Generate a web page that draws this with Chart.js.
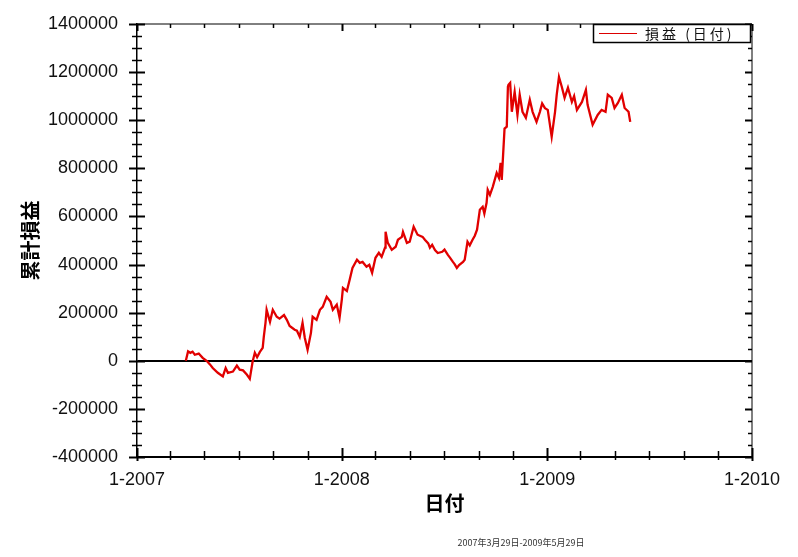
<!DOCTYPE html>
<html>
<head>
<meta charset="utf-8">
<script src="https://cdn.jsdelivr.net/npm/chart.js@4.4.0/dist/chart.umd.min.js"></script>
<style>
  html, body { margin: 0; padding: 0; background: #fff; }
  #contenedor { width: 798px; height: 557px; }
</style>
</head>
<body>
<div id="contenedor"><canvas id="grafico"></canvas></div>
<script>
/* datos: fecha y beneficio acumulado */
var fechas = [
  '2007-03-29','2007-04-02','2007-04-06','2007-04-10','2007-04-14','2007-04-21','2007-04-28','2007-05-05',
  '2007-05-11','2007-05-16','2007-05-25','2007-06-03','2007-06-08','2007-06-12','2007-06-21','2007-06-28',
  '2007-07-03','2007-07-09','2007-07-16','2007-07-21','2007-07-26','2007-07-30','2007-08-03','2007-08-08',
  '2007-08-13','2007-08-15','2007-08-18','2007-08-20','2007-08-26','2007-08-31','2007-09-07','2007-09-12',
  '2007-09-20','2007-09-25','2007-09-30','2007-10-09','2007-10-13','2007-10-18','2007-10-23','2007-10-27',
  '2007-11-01','2007-11-07','2007-11-10','2007-11-17','2007-11-23','2007-11-28','2007-12-05','2007-12-12',
  '2007-12-16','2007-12-23','2007-12-28','2008-01-01','2008-01-03','2008-01-10','2008-01-15','2008-01-20',
  '2008-01-28','2008-02-02','2008-02-07','2008-02-14','2008-02-19','2008-02-24','2008-03-01','2008-03-07',
  '2008-03-12','2008-03-18','2008-03-19','2008-03-23','2008-03-30','2008-04-06','2008-04-10','2008-04-17',
  '2008-04-19','2008-04-26','2008-05-01','2008-05-08','2008-05-15','2008-05-24','2008-05-28','2008-06-03',
  '2008-06-06','2008-06-10','2008-06-15','2008-06-20','2008-06-28','2008-07-02','2008-07-08','2008-07-12',
  '2008-07-17','2008-07-20','2008-07-24','2008-07-28','2008-08-04','2008-08-07','2008-08-12','2008-08-16',
  '2008-08-21','2008-08-25','2008-08-29','2008-09-03','2008-09-08','2008-09-11','2008-09-15','2008-09-17',
  '2008-09-21','2008-09-26','2008-10-03','2008-10-07','2008-10-10','2008-10-12','2008-10-17','2008-10-21',
  '2008-10-23','2008-10-24','2008-10-27','2008-10-30','2008-11-04','2008-11-09','2008-11-13','2008-11-18',
  '2008-11-24','2008-12-01','2008-12-06','2008-12-13','2008-12-19','2008-12-23','2008-12-28','2009-01-02',
  '2009-01-09','2009-01-15','2009-01-18','2009-01-22','2009-01-27','2009-02-01','2009-02-07','2009-02-14',
  '2009-02-18','2009-02-23','2009-03-04','2009-03-11','2009-03-14','2009-03-23','2009-04-01','2009-04-08',
  '2009-04-15','2009-04-19','2009-04-26','2009-05-01','2009-05-07','2009-05-14','2009-05-19','2009-05-26',
  '2009-05-29'
];

var beneficio = [
  0, 39000, 33000, 38000, 25000, 30000, 12000, 0,
  -15000, -30000, -50000, -65000, -30000, -50000, -45000, -20000,
  -37000, -40000, -58000, -75000, -4000, 33000, 15000, 37000,
  54000, 100000, 158000, 212000, 162000, 212000, 183000, 175000,
  190000, 170000, 145000, 129000, 125000, 100000, 158000, 96000,
  46000, 116000, 183000, 170000, 212000, 224000, 266000, 245000,
  212000, 233000, 179000, 254000, 303000, 290000, 337000, 386000,
  420000, 407000, 411000, 391000, 399000, 366000, 428000, 449000,
  432000, 470000, 536000, 490000, 461000, 474000, 503000, 515000,
  536000, 490000, 495000, 557000, 524000, 515000, 503000, 488000,
  470000, 482000, 460000, 448000, 453000, 462000, 440000, 428000,
  411000, 402000, 386000, 398000, 411000, 420000, 495000, 480000,
  503000, 520000, 545000, 628000, 640000, 612000, 657000, 711000,
  690000, 723000, 781000, 760000, 823000, 752000, 965000, 973000,
  1139000, 1147000, 1155000, 1035000, 1118000, 1022000, 1106000, 1035000,
  1010000, 1085000, 1035000, 993000, 1035000, 1070000, 1050000, 1043000,
  931000, 1035000, 1106000, 1180000, 1139000, 1093000, 1135000, 1076000,
  1100000, 1043000, 1076000, 1126000, 1064000, 981000, 1022000, 1043000,
  1035000, 1106000, 1093000, 1051000, 1072000, 1106000, 1051000, 1035000,
  993000
];

var anios = [2007, 2008, 2009, 2010];
var etiquetasX = ['1-2007', '1-2008', '1-2009', '1-2010'];
var etiquetasY = [-400000, -200000, 0, 200000, 400000, 600000, 800000, 1000000, 1200000, 1400000];

var tituloY = '累計損益';
var tituloX = '日付';
var nombreSerie = '損益 (日付)';
var pie = '2007年3月29日-2009年5月29日';

// dias desde 1-2007
var origen = Date.UTC(2007, 0, 1);
function dias(txt) {
  var p = txt.split('-');
  return (Date.UTC(+p[0], +p[1] - 1, +p[2]) - origen) / 86400000;
}
var puntos = fechas.map(function (f, i) { return { x: dias(f), y: beneficio[i] }; });
var diasAnio = anios.map(function (a) { return (Date.UTC(a, 0, 1) - origen) / 86400000; });

function linea(ctx, x1, y1, x2, y2) {
  ctx.beginPath(); ctx.moveTo(x1, y1); ctx.lineTo(x2, y2); ctx.stroke();
}

/* marco, marcas menores, leyenda y pie */
var marco = {
  id: 'marco',
  afterDraw: function (chart) {
    var ctx = chart.ctx, a = chart.chartArea, sx = chart.scales.x, sy = chart.scales.y;
    ctx.save();
    ctx.strokeStyle = '#000';
    ctx.lineWidth = 1;
    linea(ctx, a.left, a.top, a.right, a.top);
    linea(ctx, a.right, a.top, a.right, a.bottom);

    // eje y: cada 50000
    for (var v = etiquetasY[0]; v <= etiquetasY[etiquetasY.length - 1]; v += 50000) {
      var py = Math.round(sy.getPixelForValue(v)) + 0.5;
      var mayor = v % 200000 === 0;
      ctx.lineWidth = mayor ? 2 : 1.5;
      var l = mayor ? 8 : 5;
      linea(ctx, a.left - l, py, a.left + l, py);
      linea(ctx, a.right - (mayor ? 7 : 4), py, a.right, py);
    }
    // eje x: cada 2 meses
    for (var an = anios[0]; an <= anios[anios.length - 1]; an++) {
      for (var m = 0; m < 12; m += 2) {
        var d = (Date.UTC(an, m, 1) - origen) / 86400000;
        if (d > sx.max) break;
        var px = Math.round(sx.getPixelForValue(d)) + 0.5;
        var may = m === 0;
        ctx.lineWidth = may ? 2 : 1.5;
        linea(ctx, px, a.bottom - (may ? 9 : 6), px, a.bottom + (may ? 4 : 3));
        linea(ctx, px, a.top, px, a.top + (may ? 7 : 4));
      }
    }

    // leyenda
    var lx = 593, ly = a.top, lw = 157, lh = 18;
    ctx.fillStyle = '#fff';
    ctx.fillRect(lx, ly, lw, lh);
    ctx.lineWidth = 1.5;
    ctx.strokeRect(lx + 0.5, ly + 0.5, lw, lh);
    ctx.strokeStyle = 'rgb(220,0,0)';
    ctx.lineWidth = 1;
    linea(ctx, lx + 6, ly + 9.5, lx + 44, ly + 9.5);
    ctx.fillStyle = '#111';
    ctx.font = '14px "Noto Sans CJK JP"';
    ctx.textBaseline = 'middle';
    ctx.letterSpacing = '3px';
    ctx.fillText(nombreSerie, lx + 52, ly + 10);
    ctx.letterSpacing = '0px';

    // pie
    ctx.font = '9px "Noto Sans CJK JP"';
    ctx.fillStyle = '#333';
    ctx.textAlign = 'center';
    ctx.fillText(pie, 521, 543);
    ctx.restore();
  }
};

var config = {
  type: 'line',
  data: {
    datasets: [{
      label: nombreSerie,
      data: puntos,
      borderColor: 'rgb(225,0,0)',
      borderWidth: 2.3,
      pointRadius: 0,
      tension: 0,
      fill: false
    }]
  },
  options: {
    responsive: true,
    maintainAspectRatio: false,
    animation: false,
    layout: { padding: { top: 24, right: 46, left: 0, bottom: 0 } },
    plugins: { legend: { display: false }, tooltip: { enabled: false } },
    scales: {
      x: {
        type: 'linear',
        min: diasAnio[0],
        max: diasAnio[diasAnio.length - 1],
        afterBuildTicks: function (s) { s.ticks = diasAnio.map(function (d) { return { value: d }; }); },
        afterFit: function (s) { s.height = 100; s.paddingLeft = 0; s.paddingRight = 0; },
        grid: { display: false, drawTicks: false },
        border: { display: true, color: '#000', width: 2 },
        ticks: {
          autoSkip: false,
          maxRotation: 0,
          padding: 12,
          color: '#111',
          font: { family: 'Liberation Sans', size: 18 },
          callback: function (v) { var i = diasAnio.indexOf(v); return i >= 0 ? etiquetasX[i] : ''; }
        },
        title: {
          display: true,
          text: tituloX,
          color: '#000',
          font: { family: 'Noto Sans CJK JP', size: 20, weight: 'bold' },
          padding: { top: 0, bottom: 42 }
        }
      },
      y: {
        min: etiquetasY[0],
        max: etiquetasY[etiquetasY.length - 1],
        afterBuildTicks: function (s) { s.ticks = etiquetasY.map(function (v) { return { value: v }; }); },
        afterFit: function (s) { s.width = 137; s.paddingTop = 0; s.paddingBottom = 0; },
        grid: {
          drawTicks: false,
          color: function (c) { return c.tick && c.tick.value === 0 ? '#000' : 'rgba(0,0,0,0)'; },
          lineWidth: 2
        },
        border: { display: true, color: '#000', width: 1.5 },
        ticks: {
          autoSkip: false,
          padding: 19,
          color: '#111',
          font: { family: 'Liberation Sans', size: 18 },
          callback: function (v) { return String(v); }
        },
        title: {
          display: true,
          text: tituloY,
          color: '#000',
          font: { family: 'Noto Sans CJK JP', size: 20, weight: 'bold' },
          padding: { top: 18, bottom: 0 }
        }
      }
    }
  },
  plugins: [marco]
};

var chart = new Chart(document.getElementById('grafico').getContext('2d'), config);
</script>
</body>
</html>
